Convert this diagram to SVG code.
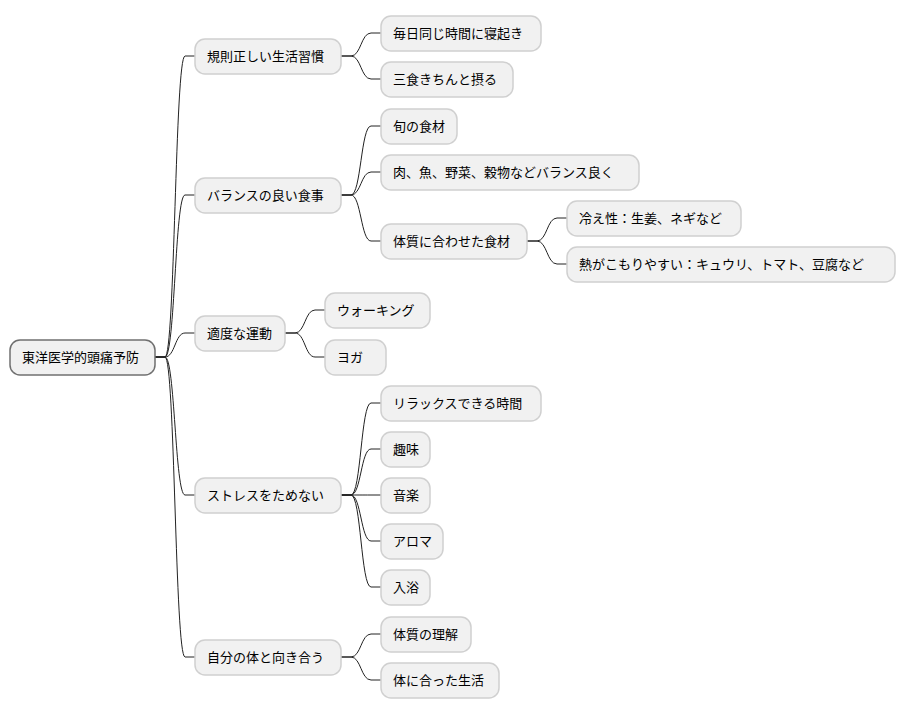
<svg xmlns="http://www.w3.org/2000/svg" width="906" height="715" viewBox="0 0 906 715">
<style>
rect{fill:#F1F1F1;stroke:#D0D0D0;stroke-width:1.5}
#root rect{stroke:#707070}
text{font-family:"Liberation Sans","Noto Sans CJK JP",sans-serif;font-size:13px;fill:#000;dominant-baseline:central}
#edges path{fill:none;stroke:#222;stroke-width:1}
</style>
<rect width="906" height="715" style="fill:#fff;stroke:none"/>
<g id="edges">
<path d="M155,357 H165 C175,357 175,56 185,56 H195"/>
<path d="M155,357 H165 C175,357 175,195 185,195 H195"/>
<path d="M155,357 H165 C175,357 175,333 185,333 H195"/>
<path d="M155,357 H165 C175,357 175,495 185,495 H195"/>
<path d="M155,357 H165 C175,357 175,657 185,657 H195"/>
<path d="M341,56 H351 C361,56 361,33 371,33 H381"/>
<path d="M341,56 H351 C361,56 361,79 371,79 H381"/>
<path d="M341,195 H351 C361,195 361,126 371,126 H381"/>
<path d="M341,195 H351 C361,195 361,172 371,172 H381"/>
<path d="M341,195 H351 C361,195 361,241 371,241 H381"/>
<path d="M527,241 H537 C547,241 547,218 557,218 H567"/>
<path d="M527,241 H537 C547,241 547,264 557,264 H567"/>
<path d="M285,333 H295 C305,333 305,310 315,310 H325"/>
<path d="M285,333 H295 C305,333 305,357 315,357 H325"/>
<path d="M341,495 H351 C361,495 361,403 371,403 H381"/>
<path d="M341,495 H351 C361,495 361,449 371,449 H381"/>
<path d="M341,495 H351 C361,495 361,495 371,495 H381"/>
<path d="M341,495 H351 C361,495 361,541 371,541 H381"/>
<path d="M341,495 H351 C361,495 361,587 371,587 H381"/>
<path d="M341,657 H351 C361,657 361,634 371,634 H381"/>
<path d="M341,657 H351 C361,657 361,680 371,680 H381"/>
</g>
<g id="root"><rect x="10" y="340" width="145" height="35" rx="10"/><text x="22" y="357.5">東洋医学的頭痛予防</text></g>
<g id="n1"><rect x="195" y="39" width="146" height="35" rx="10"/><text x="207" y="56.5">規則正しい生活習慣</text></g>
<g id="n2"><rect x="195" y="178" width="146" height="35" rx="10"/><text x="207" y="195.5">バランスの良い食事</text></g>
<g id="n3"><rect x="195" y="316" width="90" height="35" rx="10"/><text x="207" y="333.5">適度な運動</text></g>
<g id="n4"><rect x="195" y="478" width="146" height="35" rx="10"/><text x="207" y="495.5">ストレスをためない</text></g>
<g id="n5"><rect x="195" y="640" width="146" height="35" rx="10"/><text x="207" y="657.5">自分の体と向き合う</text></g>
<g id="n11"><rect x="381" y="16" width="160" height="35" rx="10"/><text x="393" y="33.5">毎日同じ時間に寝起き</text></g>
<g id="n12"><rect x="381" y="62" width="132" height="35" rx="10"/><text x="393" y="79.5">三食きちんと摂る</text></g>
<g id="n21"><rect x="381" y="109" width="76" height="35" rx="10"/><text x="393" y="126.5">旬の食材</text></g>
<g id="n22"><rect x="381" y="155" width="258" height="35" rx="10"/><text x="393" y="172.5">肉、魚、野菜、穀物などバランス良く</text></g>
<g id="n23"><rect x="381" y="224" width="146" height="35" rx="10"/><text x="393" y="241.5">体質に合わせた食材</text></g>
<g id="n231"><rect x="567" y="201" width="174" height="35" rx="10"/><text x="579" y="218.5">冷え性：生姜、ネギなど</text></g>
<g id="n232"><rect x="567" y="247" width="328" height="35" rx="10"/><text x="579" y="264.5">熱がこもりやすい：キュウリ、トマト、豆腐など</text></g>
<g id="n31"><rect x="325" y="293" width="105" height="35" rx="10"/><text x="337" y="310.5">ウォーキング</text></g>
<g id="n32"><rect x="325" y="340" width="61" height="35" rx="10"/><text x="337" y="357.5">ヨガ</text></g>
<g id="n41"><rect x="381" y="386" width="160" height="35" rx="10"/><text x="393" y="403.5">リラックスできる時間</text></g>
<g id="n42"><rect x="381" y="432" width="49" height="35" rx="10"/><text x="393" y="449.5">趣味</text></g>
<g id="n43"><rect x="381" y="478" width="49" height="35" rx="10"/><text x="393" y="495.5">音楽</text></g>
<g id="n44"><rect x="381" y="524" width="62" height="35" rx="10"/><text x="393" y="541.5">アロマ</text></g>
<g id="n45"><rect x="381" y="570" width="49" height="35" rx="10"/><text x="393" y="587.5">入浴</text></g>
<g id="n51"><rect x="381" y="617" width="90" height="35" rx="10"/><text x="393" y="634.5">体質の理解</text></g>
<g id="n52"><rect x="381" y="663" width="118" height="35" rx="10"/><text x="393" y="680.5">体に合った生活</text></g>
</svg>
